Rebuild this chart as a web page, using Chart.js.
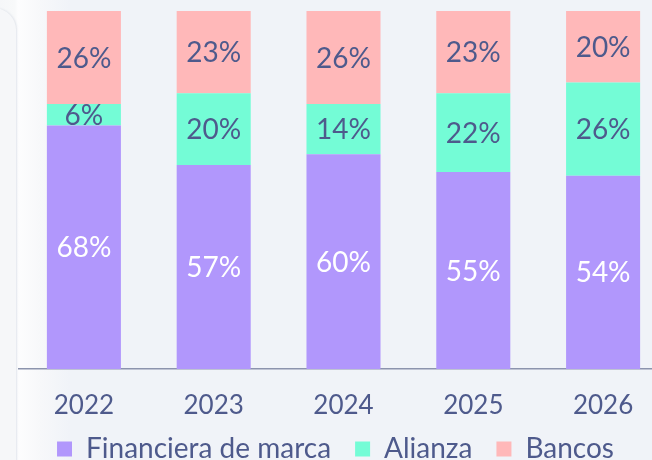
<!DOCTYPE html>
<html>
<head>
<meta charset="utf-8">
<script src="https://cdn.jsdelivr.net/npm/chart.js@4/dist/chart.umd.min.js"></script>
<style>
  html, body { margin: 0; padding: 0; width: 652px; height: 460px; overflow: hidden; background: #f0f3f8; }
  #bg { position: absolute; left: 0; top: 0; width: 652px; height: 460px;
        background: linear-gradient(to right, #f6f7f9 0px, #f8f9fa 15px, #fdfdfe 18px, #f7f8fa 40px, #f0f3f8 70px); }
  #card { position: absolute; left: -40px; top: 8px; width: 56px; height: 480px; border-radius: 22px;
          background: #f6f7f9; box-shadow: 1px 0 2px rgba(180,188,205,0.35); }
  #wrap { position: absolute; left: 0; top: 0; width: 670px; height: 460px; }
</style>
</head>
<body>
<div id="bg"></div>
<div id="card"></div>
<div id="wrap"><canvas id="c"></canvas></div>
<script>
const categories = ['2022', '2023', '2024', '2025', '2026'];
const seriesNames = ['Financiera de marca', 'Alianza', 'Bancos'];
const financiera = [68, 57, 60, 55, 54];
const alianza = [6, 20, 14, 22, 26];
const bancos = [26, 23, 26, 23, 20];

const colors = ['#b197fc', '#74fcd6', '#ffb8b9'];
const labelColors = ['#ffffff', '#4e5a8c', '#4e5a8c'];
const textColor = '#4e5a8c';
const FONT = 'Lato, "Noto Sans", sans-serif';

const barLabels = {
  id: 'barLabels',
  afterDatasetsDraw(chart) {
    const ctx = chart.ctx;
    ctx.save();
    ctx.font = '28px ' + FONT;
    ctx.textAlign = 'center';
    ctx.textBaseline = 'middle';
    chart.data.datasets.forEach((ds, di) => {
      const meta = chart.getDatasetMeta(di);
      meta.data.forEach((bar, i) => {
        const p = bar.getProps(['x', 'y', 'base'], true);
        const cy = (p.y + p.base) / 2;
        ctx.fillStyle = labelColors[di];
        ctx.fillText(ds.data[i] + '%', p.x, cy + 1);
      });
    });
    ctx.restore();
  }
};

// Legend: wide horizontal gaps, small vertical footprint, placed near the bottom edge
const legendFit = {
  id: 'legendFit',
  beforeInit(chart) {
    const lg = chart.legend;
    if (!lg) return;
    const orig = lg.fit;
    lg.fit = function () {
      orig.call(this);
      this.height = 31;
    };
  },
  afterLayout(chart) {
    const lg = chart.legend;
    if (!lg) return;
    lg.top = 411;
    lg.bottom = 460;
    lg.left -= 8;
    lg.right -= 8;
  }
};

new Chart(document.getElementById('c'), {
  type: 'bar',
  data: {
    labels: categories,
    datasets: [
      { label: seriesNames[0], data: financiera, backgroundColor: colors[0] },
      { label: seriesNames[1], data: alianza, backgroundColor: colors[1] },
      { label: seriesNames[2], data: bancos, backgroundColor: colors[2] }
    ]
  },
  options: {
    responsive: true,
    maintainAspectRatio: false,
    animation: false,
    devicePixelRatio: 1,
    layout: { padding: { top: 11, left: 19, right: 2, bottom: 0 } },
    datasets: { bar: { barPercentage: 0.8, categoryPercentage: 0.713, borderWidth: 0 } },
    scales: {
      x: {
        stacked: true,
        grid: { display: false, drawTicks: false },
        border: { display: true, color: '#8c94ad', width: 1.5 },
        ticks: { color: textColor, font: { family: FONT, size: 26 }, padding: 21 },
        afterFit(scale) { scale.height = 60; }
      },
      y: {
        stacked: true, display: false, min: 0, max: 100
      }
    },
    plugins: {
      legend: {
        position: 'bottom',
        labels: {
          color: textColor,
          font: { family: FONT, size: 28 },
          boxWidth: 15, boxHeight: 15,
          padding: 24
        }
      },
      tooltip: { enabled: false }
    }
  },
  plugins: [barLabels, legendFit]
});
</script>
</body>
</html>
